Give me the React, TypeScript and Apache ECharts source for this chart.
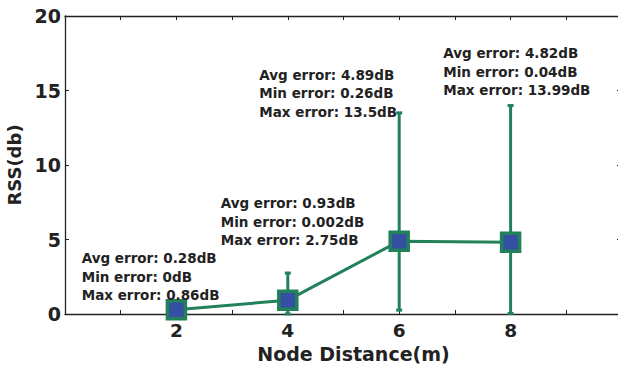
import React, { useEffect, useRef } from "react";
import * as echarts from "echarts";

const distances = [2, 4, 6, 8];
const avgRss = [0.28, 0.93, 4.89, 4.82];
const minRss = [0, 0.002, 0.26, 0.04];
const maxRss = [0.86, 2.75, 13.5, 13.99];
const xTickLabels = ["2", "4", "6", "8"];
const yTickLabels = ["0", "5", "10", "15", "20"];

const GREEN = "#22805a";
const BLUE = "#3450a2";
const INK = "#222222";
const FONT = "'DejaVu Sans', 'Liberation Sans', Arial, sans-serif";

// label block anchor positions (left, cap-top of first line) in pixels
const blockPos = [
  [81.7, 253.3],
  [220.7, 198.3],
  [259.3, 70],
  [443.3, 48.3],
];

export default function App() {
  const ref = useRef<HTMLDivElement>(null);
  useEffect(() => {
    if (!ref.current) return;
    const chart = echarts.init(ref.current, null, { renderer: "svg" });

    const graphics: any[] = [];
    distances.forEach((_, i) => {
      const lines = [
        `Avg error: ${avgRss[i]}dB`,
        `Min error: ${minRss[i]}dB`,
        `Max error: ${maxRss[i]}dB`,
      ];
      lines.forEach((t, j) => {
        graphics.push({
          type: "text",
          x: blockPos[i][0],
          y: blockPos[i][1] + 5 + j * 18.3,
          z: 100,
          style: {
            text: t,
            fill: INK,
            font: `bold 13.5px ${FONT}`,
            textAlign: "left",
            textVerticalAlign: "middle",
          },
        });
      });
    });

    const option: any = {
      animation: false,
      backgroundColor: "#ffffff",
      grid: {
        left: 65,
        top: 16,
        width: 557,
        height: 298,
        containLabel: false,
        outerBoundsMode: "none",
      },
      xAxis: [
        {
          type: "value",
          min: 0,
          max: 10,
          interval: 1,
          position: "bottom",
          name: "Node Distance(m)",
          nameLocation: "middle",
          nameGap: 31,
          nameMoveOverlap: false,
          nameTextStyle: {
            color: INK,
            fontFamily: FONT,
            fontWeight: "bold",
            fontSize: 19,
            lineHeight: 18,
            padding: [0, 0, 0, 20],
          },
          axisLine: { onZero: false, lineStyle: { color: INK, width: 1.3 } },
          axisTick: { inside: true, length: 4, lineStyle: { color: INK } },
          splitLine: { show: false },
          axisLabel: {
            margin: 8,
            lineHeight: 17,
            color: INK,
            fontFamily: FONT,
            fontWeight: "bold",
            fontSize: 18.5,
            formatter: (v: number) => (xTickLabels.includes(String(v)) ? String(v) : ""),
          },
        },
        {
          type: "value",
          min: 0,
          max: 10,
          interval: 1,
          position: "top",
          axisLine: { onZero: false, lineStyle: { color: INK, width: 1.3 } },
          axisTick: { inside: true, length: 4, lineStyle: { color: INK } },
          splitLine: { show: false },
          axisLabel: { show: false },
        },
      ],
      yAxis: [
        {
          type: "value",
          min: 0,
          max: 20,
          interval: 5,
          position: "left",
          name: "RSS(db)",
          nameLocation: "middle",
          nameGap: 42,
          nameMoveOverlap: false,
          nameRotate: 90,
          nameTextStyle: {
            color: INK,
            fontFamily: FONT,
            fontWeight: "bold",
            fontSize: 18,
          },
          axisLine: { onZero: false, lineStyle: { color: INK, width: 1.3 } },
          axisTick: { inside: true, length: 4, lineStyle: { color: INK } },
          splitLine: { show: false },
          axisLabel: {
            margin: 4,
            color: INK,
            fontFamily: FONT,
            fontWeight: "bold",
            fontSize: 19,
            formatter: (v: number) => (yTickLabels.includes(String(v)) ? String(v) : ""),
          },
        },
        {
          type: "value",
          min: 0,
          max: 20,
          interval: 5,
          position: "right",
          axisLine: { onZero: false, lineStyle: { color: INK, width: 1.3 } },
          axisTick: { inside: true, length: 5, lineStyle: { color: INK } },
          splitLine: { show: false },
          axisLabel: { show: false },
        },
      ],
      series: [
        {
          type: "custom",
          xAxisIndex: 0,
          yAxisIndex: 0,
          z: 2,
          data: distances.map((d, i) => [d, minRss[i], maxRss[i]]),
          renderItem: (params: any, api: any) => {
            const x = api.value(0);
            const lo = api.coord([x, api.value(1)]);
            const hi = api.coord([x, api.value(2)]);
            const style = { stroke: GREEN, lineWidth: 3 };
            const cap = 3;
            return {
              type: "group",
              children: [
                { type: "line", shape: { x1: lo[0], y1: lo[1], x2: hi[0], y2: hi[1] }, style },
                { type: "line", shape: { x1: lo[0] - cap, y1: lo[1], x2: lo[0] + cap, y2: lo[1] }, style },
                { type: "line", shape: { x1: hi[0] - cap, y1: hi[1], x2: hi[0] + cap, y2: hi[1] }, style },
              ],
            };
          },
        },
        {
          type: "line",
          xAxisIndex: 0,
          yAxisIndex: 0,
          data: distances.map((d, i) => [d, avgRss[i]]),
          symbol: "rect",
          symbolSize: 18,
          lineStyle: { color: GREEN, width: 3 },
          itemStyle: { color: BLUE, borderColor: GREEN, borderWidth: 3.5, opacity: 1 },
          z: 3,
        },
      ],
      graphic: graphics,
    };
    chart.setOption(option);
    return () => chart.dispose();
  }, []);
  return (
    <div
      ref={ref}
      style={{ position: "absolute", left: 0, top: 0, width: 618, height: 366 }}
    />
  );
}
